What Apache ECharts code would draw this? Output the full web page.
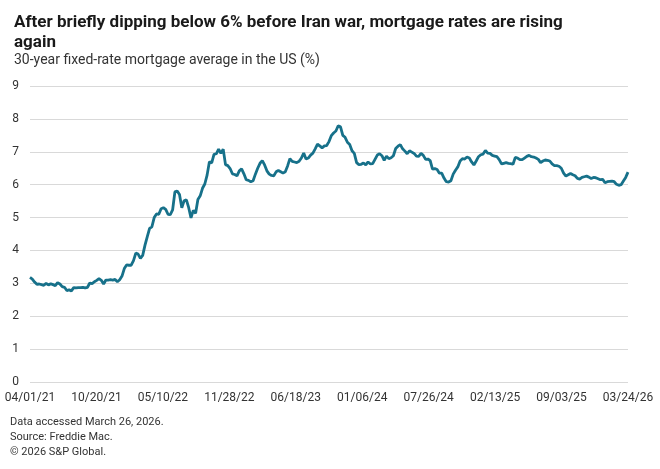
<!DOCTYPE html>
<html><head><meta charset="utf-8">
<script src="https://cdn.jsdelivr.net/npm/echarts@6/dist/echarts.min.js"></script>
<style>html,body{margin:0;padding:0;background:#fff}#c{width:660px;height:469px}</style>
</head><body><div id="c"></div>
<script>
// Weekly Freddie Mac 30-year fixed rate, first week 04/01/21
const startDate = '2021-04-01';
const rates2021 = [3.18,3.13,3.04,2.97,2.98, 2.96,2.94,3.00,2.95, 2.99,2.96,2.93,3.02, 2.98,2.90,2.88,2.78,2.80, 2.77,2.87,2.86,2.87, 2.87,2.88,2.86,2.88,3.01, 2.99,3.05,3.09,3.14, 3.09,2.98,3.10,3.10, 3.11,3.10,3.12,3.05,3.11];
const rates2022 = [3.22,3.45,3.56,3.55, 3.55,3.69,3.92,3.89, 3.76,3.85,4.16,4.42,4.67, 4.72,5.00,5.11,5.10, 5.27,5.30,5.25,5.10, 5.09,5.23,5.78,5.81,5.70, 5.30,5.51,5.54,5.30, 4.99,5.22,5.13,5.55, 5.66,5.89,6.02,6.29,6.70, 6.66,6.92,6.94,7.08, 6.95,7.08,6.61,6.58, 6.49,6.33,6.31,6.27,6.42];
const rates2023 = [6.48,6.33,6.15,6.13, 6.09,6.12,6.32,6.50, 6.65,6.73,6.60,6.42,6.32, 6.28,6.27,6.39,6.43, 6.39,6.35,6.39,6.57, 6.79,6.71,6.69,6.67,6.71, 6.81,6.96,6.78,6.81, 6.90,6.96,7.09,7.23,7.18, 7.12,7.18,7.19,7.31, 7.49,7.57,7.63,7.79, 7.76,7.50,7.44,7.29,7.22, 7.03,6.95,6.67,6.61];
const rates2024 = [6.62,6.66,6.60,6.69, 6.63,6.64,6.77,6.90,6.94, 6.88,6.74,6.87,6.79, 6.82,6.88,7.10,7.17, 7.22,7.09,7.02,6.94,7.03, 6.99,6.95,6.87,6.86, 6.95,6.89,6.77,6.78, 6.73,6.47,6.49,6.46,6.35, 6.35,6.20,6.09,6.08, 6.12,6.32,6.44,6.54,6.72, 6.79,6.78,6.84,6.81, 6.69,6.60,6.72,6.85];
const rates2025 = [6.91,6.93,7.04,6.96,6.95, 6.89,6.87,6.85,6.76, 6.63,6.65,6.67,6.65, 6.64,6.62,6.83,6.81, 6.76,6.76,6.81,6.86,6.89, 6.85,6.84,6.81,6.77, 6.67,6.72,6.75,6.74,6.72, 6.63,6.58,6.58,6.56, 6.50,6.35,6.26,6.30, 6.34,6.30,6.27,6.19,6.17, 6.22,6.24,6.26,6.23, 6.19,6.22,6.21,6.18,6.15];
const rates2026 = [6.16,6.06,6.09,6.10, 6.11,6.09,6.01,5.98, 6.00,6.11,6.22,6.38];
const xTickLabels = ['04/01/21','10/20/21','05/10/22','11/28/22','06/18/23','01/06/24','07/26/24','02/13/25','09/03/25','03/24/26'];
const yTickLabels = ['0','1','2','3','4','5','6','7','8','9'];

const rates = [].concat(rates2021, rates2022, rates2023, rates2024, rates2025, rates2026);
const points = rates.map((v, i) => [i * 7, v]); // day offset from startDate (weekly)
const lastDay = (rates.length - 1) * 7;
const step = lastDay / (xTickLabels.length - 1);

const chart = echarts.init(document.getElementById('c'), null, {renderer: 'canvas'});
const font = 'Roboto, "Liberation Sans", Arial, sans-serif';
chart.setOption({
  animation: false,
  backgroundColor: '#ffffff',
  title: [
    {text: 'After briefly dipping below 6% before Iran war, mortgage rates are rising\nagain', left: 9, top: 8,
     textStyle: {fontFamily: font, fontSize: 17, fontWeight: 'bold', color: '#1a1a1a', lineHeight: 20}},
    {text: '30-year fixed-rate mortgage average in the US (%)', left: 9, top: 48,
     textStyle: {fontFamily: font, fontSize: 14, fontWeight: 'normal', color: '#333333'}}
  ],
  graphic: [
    {type: 'text', left: 10, top: 417, style: {text: 'Data accessed March 26, 2026.', font: '11px ' + font, fill: '#333'}},
    {type: 'text', left: 10, top: 432, style: {text: 'Source: Freddie Mac.', font: '11px ' + font, fill: '#333'}},
    {type: 'text', left: 10, top: 447, style: {text: '\u00a9 2026 S&P Global.', font: '11px ' + font, fill: '#333'}}
  ],
  grid: {left: 30, right: 32, top: 86, bottom: 87, containLabel: false},
  xAxis: {
    type: 'value', min: 0, max: lastDay, interval: step,
    axisLine: {show: false}, axisTick: {show: false}, splitLine: {show: false},
    axisLabel: {color: '#333', fontFamily: font, fontSize: 12, margin: 10,
      showMinLabel: true, showMaxLabel: true,
      formatter: v => xTickLabels[Math.round(v / step)] || ''}
  },
  yAxis: {
    type: 'value', min: 0, max: 9, interval: 1,
    axisLine: {show: false}, axisTick: {show: false},
    splitLine: {lineStyle: {color: '#d9d9d9', width: 1}},
    axisLabel: {color: '#333', fontFamily: font, fontSize: 12, margin: 11,
      formatter: v => yTickLabels[v]}
  },
  series: [{
    type: 'line', data: points, showSymbol: false, smooth: false,
    lineStyle: {color: '#17718a', width: 2.8}, clip: false
  }]
});
</script></body></html>
